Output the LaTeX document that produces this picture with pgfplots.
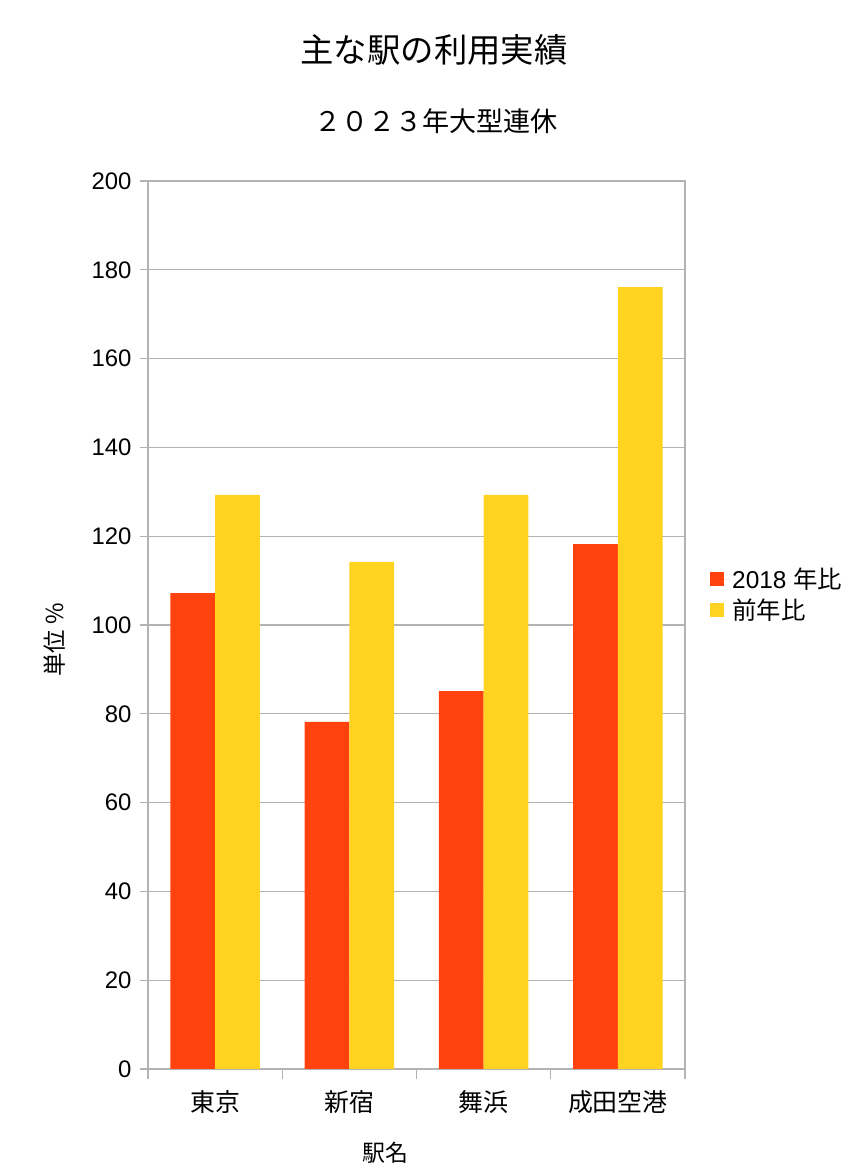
\documentclass[border=0pt]{standalone}
\usepackage{pgfplots}
\pgfplotsset{compat=1.18}
\usepackage{fontspec}
\setmainfont{Liberation Sans}
\newfontfamily\cjk{Noto Sans CJK JP}
\definecolor{cRed}{HTML}{FF420E}
\definecolor{cYel}{HTML}{FFD320}
\definecolor{cGrid}{HTML}{B3B3B3}
\begin{document}
\begin{tikzpicture}[x=1bp,y=1bp]
\useasboundingbox (0,0) rectangle (860,1172);
\begin{axis}[
  at={(148bp,103bp)}, anchor=south west,
  width=537bp, height=888bp, scale only axis,
  ybar, bar width=0.333,
  xmin=-0.5, xmax=3.5, ymin=0, ymax=200,
  ytick={0,20,...,200},
  xtick={0,1,2,3},
  xtick pos=left, ytick pos=left,
  xticklabels={東京,新宿,舞浜,成田空港},
  x tick label style={font=\cjk\fontsize{25}{29}\selectfont, yshift=-10bp},
  y tick label style={font=\fontsize{24}{28}\selectfont, xshift=-5bp},
  /pgf/number format/assume math mode=true,
  xtick style={draw=none},
  ytick style={draw=cGrid, line width=1.2bp},
  tick align=outside,
  major tick length=8bp,
  extra x ticks={-0.5,0.5,1.5,2.5,3.5},
  extra x tick labels={},
  extra x tick style={xtick style={draw=cGrid, line width=1.2bp}, major tick length=10bp, grid=none},
  ymajorgrids, grid style={cGrid, line width=1.2bp},
  axis line style={cGrid, line width=1.2bp},
  legend style={draw=none, fill=none, at={(1.0466,0.534)}, anchor=west,
    font=\fontsize{24.5}{28}\selectfont, row sep=5bp, inner xsep=0pt,
    legend cell align=left},
  legend image code/.code={\fill[#1,draw=none] (0bp,-7bp) rectangle (14bp,7bp); \path (0bp,0bp) -- (20bp,0bp);},
]
\addplot[fill=cRed, draw=none, bar shift=-0.1665] coordinates {(0,107.2) (1,78.2) (2,85.1) (3,118.2)};
\addplot[fill=cYel, draw=none, bar shift=0.1665] coordinates {(0,129.3) (1,114.2) (2,129.3) (3,176.1)};
\legend{2018 {\cjk 年比},{\cjk 前年比}}
\end{axis}
\node[font=\cjk\fontsize{33.5}{38}\selectfont] at (434,1122) {主な駅の利用実績};
\node[font=\cjk\fontsize{27.2}{31}\selectfont] at (436,1051) {２０２３年大型連休};
\node[font=\cjk\fontsize{23}{27}\selectfont] at (385,19) {駅名};
\node[font=\cjk\fontsize{23.5}{27}\selectfont, rotate=90] at (55,532) {単位 \%};
\end{tikzpicture}
\end{document}
